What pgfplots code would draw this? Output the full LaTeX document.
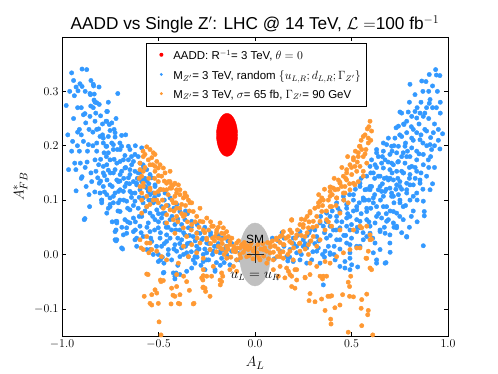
\documentclass[border=0pt]{standalone}
\usepackage{fontspec}
\setmainfont{Liberation Sans}
\usepackage{pgfplots}
\pgfplotsset{compat=1.18}
\definecolor{zblue}{RGB}{51,153,255}
\definecolor{zorange}{RGB}{255,153,51}
\definecolor{smgray}{RGB}{192,192,192}
\begin{document}
\begin{tikzpicture}
\useasboundingbox (-62bp,-38bp) rectangle (436bp,336bp);
\begin{axis}[
  at={(0,0)}, anchor=south west,
  scale only axis, width=386bp, height=299bp,
  xmin=-1, xmax=1, ymin=-0.15, ymax=0.40,
  xtick={-1,-0.5,0,0.5,1}, ytick={-0.1,0,0.1,0.2,0.3},
  xticklabels={$-1.0$,$-0.5$,$0.0$,$0.5$,$1.0$},
  yticklabels={$-0.1$,$0.0$,$0.1$,$0.2$,$0.3$},
  tick align=inside, major tick length=4bp,
  every tick/.style={black, line width=0.6pt},
  axis line style={line width=0.8pt},
  ticklabel style={font=\fontsize{13}{15}\selectfont},
  xlabel={$A_L$}, ylabel={$A^*_{FB}$},
  label style={font=\fontsize{15}{17}\selectfont},
  xlabel style={yshift=-2bp},
  title={AADD vs Single Z$'$: LHC @ 14 TeV, $\mathcal{L}=$100 fb$^{-1}$},
  title style={font=\fontsize{17.3}{20}\selectfont, yshift=-6bp},
  legend style={at={(0.503,0.98)}, anchor=north, draw=black, line width=0.8pt,
    font=\fontsize{11.5}{13}\selectfont, row sep=5bp, inner xsep=3bp, inner ysep=5bp},
  legend cell align=left,
  clip=true,
]
\addlegendimage{legend image code/.code={\path[draw=none,fill=none] (0bp,0bp) -- (22bp,0bp); \fill[red,draw=none] (12bp,0) circle (2bp);}}
\addlegendentry{AADD: R$^{-1}$= 3 TeV, $\theta = 0$}
\addlegendimage{legend image code/.code={\path[draw=none,fill=none] (0bp,0bp) -- (22bp,0bp); \fill[zblue,draw=none] (12bp,0) circle (1.6bp);}}
\addlegendentry{M$_{Z'}$= 3 TeV, random $\{u_{L,R}; d_{L,R}; \Gamma_{Z'}\}$}
\addlegendimage{legend image code/.code={\path[draw=none,fill=none] (0bp,0bp) -- (22bp,0bp); \fill[zorange,draw=none] (12bp,0) circle (1.6bp);}}
\addlegendentry{M$_{Z'}$= 3 TeV, $\sigma$= 65 fb, $\Gamma_{Z'}$= 90 GeV}

% ---------------- blue: random couplings ----------------
\addplot[only marks, mark=*, mark size=2.2bp, color=zblue, forget plot] coordinates {
(-0.978,0.274) (-0.95,0.334) (-0.936,0.292) (-0.927,0.117) (-0.917,0.301) (-0.896,0.309) (-0.896,0.341) (-0.872,0.34)
(-0.836,0.31) (-0.808,0.308) (-0.853,0.294) (-0.919,0.27) (-0.945,0.208) (-0.919,0.225) (-0.91,0.23) (-0.928,0.156)
(-0.966,0.156) (-0.934,0.168) (-0.889,0.208) (-0.885,0.064) (-0.857,0.088) (-0.896,0.143) (-0.875,0.125) (-0.905,0.168)
(-0.863,0.202) (-0.868,0.19) (-0.877,0.242) (-0.889,0.257) (-0.851,0.273) (-0.834,0.284) (-0.825,0.26) (-0.833,0.295)
(-0.82,0.279) (-0.81,0.231) (-0.803,0.217) (-0.829,0.174) (-0.824,0.153) (-0.815,0.141) (-0.846,0.134) (-0.803,0.113)
(-0.795,0.1) (-0.807,0.131) (-0.782,0.187) (-0.786,0.162) (-0.767,0.137) (-0.751,0.174) (-0.772,0.199) (-0.76,0.217)
(-0.742,0.205) (-0.765,0.263) (-0.772,0.245) (-0.742,0.242) (-0.725,0.224) (-0.734,0.193) (-0.725,0.156) (-0.751,0.104)
(-0.734,0.095) (-0.76,0.085) (-0.72,0.061) (-0.72,0.045) (-0.716,0.027) (-0.707,0.116) (-0.716,0.137)
(-0.907,0.314) (-0.927,0.308) (-0.838,0.313) (-0.855,0.296) (-0.711,0.296) (-0.829,0.28) (-0.807,0.276) (-0.768,0.263)
(-0.838,0.27) (-0.881,0.259) (-0.855,0.254) (-0.829,0.245) (-0.768,0.245) (-0.755,0.239) (-0.751,0.228) (-0.73,0.23)
(-0.691,0.219) (-0.725,0.216) (-0.786,0.214) (-0.82,0.23) (-0.768,0.199) (-0.713,0.193) (-0.691,0.199) (-0.656,0.199)
(-0.648,0.193) (-0.674,0.182) (-0.699,0.171) (-0.656,0.174) (-0.63,0.171) (-0.605,0.18) (-0.587,0.196) (-0.648,0.156)
(-0.674,0.159) (-0.699,0.147) (-0.622,0.153) (-0.596,0.15) (-0.579,0.159) (-0.561,0.156) (-0.544,0.147) (-0.656,0.141)
(-0.63,0.134) (-0.613,0.128) (-0.587,0.134) (-0.57,0.125) (-0.596,0.119) (-0.674,0.125) (-0.699,0.119) (-0.648,0.116)
(-0.622,0.113) (-0.553,0.116) (-0.518,0.125) (-0.527,0.113) (-0.734,0.107)
(-0.786,0.205) (-0.734,0.202) (-0.76,0.187) (-0.699,0.193) (-0.622,0.184) (-0.596,0.168) (-0.639,0.165) (-0.682,0.174)
(-0.716,0.168) (-0.768,0.165) (-0.786,0.15) (-0.734,0.15) (-0.691,0.153) (-0.648,0.147) (-0.605,0.15) (-0.579,0.137)
(-0.613,0.131) (-0.665,0.131) (-0.708,0.134) (-0.751,0.128) (-0.786,0.125) (-0.768,0.11) (-0.725,0.113) (-0.682,0.116)
(-0.639,0.113) (-0.561,0.122) (-0.544,0.11) (-0.579,0.104) (-0.622,0.098) (-0.665,0.098) (-0.708,0.095) (-0.751,0.092)
(-0.794,0.095) (-0.699,0.079) (-0.648,0.082) (-0.605,0.085) (-0.561,0.088) (-0.527,0.095) (-0.509,0.082) (-0.544,0.076)
(-0.587,0.07) (-0.63,0.067) (-0.674,0.064) (-0.716,0.061) (-0.665,0.049) (-0.725,0.027) (-0.682,0.036) (-0.691,0.012)
(-0.63,0.042) (-0.596,0.052) (-0.553,0.058) (-0.518,0.064) (-0.484,0.067) (-0.466,0.058) (-0.501,0.049) (-0.544,0.042)
(-0.579,0.033) (-0.622,0.027) (-0.613,0.015) (-0.535,0.024) (-0.492,0.03) (-0.458,0.036) (-0.432,0.045) (-0.415,0.055)
(-0.44,0.064) (-0.466,0.076) (-0.484,0.088) (-0.509,0.098) (-0.458,0.024) (-0.415,0.018) (-0.38,0.027) (-0.363,0.036)
(-0.389,0.045) (-0.345,0.049) (-0.32,0.033) (-0.337,0.021) (-0.38,0.012) (-0.302,0.015) (-0.276,0.027) (-0.285,0.039)
(-0.25,0.021) (-0.233,0.009) (-0.198,0.015) (-0.181,0.003) (-0.147,0.0) (-0.268,0.0) (-0.311,-0.004) (-0.354,0.003)
(-0.406,0.006) (-0.449,0.009) (-0.484,0.015) (-0.501,0.0) (-0.544,0.009) (-0.389,0.079) (-0.363,0.064) (-0.328,0.061)
(-0.406,0.092) (-0.44,0.104) (-0.466,0.113) (-0.492,0.119) (-0.518,0.128) (-0.535,0.141)
(-0.881,0.066) (-0.794,0.1) (-0.751,0.088) (-0.768,0.076) (-0.716,0.058) (-0.725,0.042) (-0.72,0.025) (-0.686,0.01)
(-0.665,0.039) (-0.648,0.058) (-0.613,0.03) (-0.561,0.009) (-0.527,0.0) (-0.501,-0.013) (-0.472,-0.016) (-0.472,-0.033)
(-0.409,-0.034) (-0.415,-0.045) (-0.354,-0.031) (-0.311,-0.016) (-0.268,-0.013) (-0.207,-0.031) (-0.173,-0.007) (-0.13,-0.019)
(-0.095,-0.01) (-0.432,-0.01) (-0.389,-0.004) (-0.345,-0.004) (-0.302,0.006) (-0.25,0.003) (-0.216,0.006) (-0.164,0.009)
(-0.121,0.006) (-0.078,0.003) (-0.043,0.0) (-0.49,-0.01) (-0.475,-0.034) (-0.423,-0.034) (-0.389,-0.037) (-0.415,-0.04)
(-0.328,-0.025) (-0.259,-0.028) (-0.207,-0.028)
(-0.12,0.02) (-0.1,0.01) (-0.08,-0.01) (-0.06,0.015) (-0.14,0.025) (-0.16,-0.015) (-0.19,0.035) (-0.23,0.04)
(-0.26,0.05) (-0.3,0.055) (-0.35,0.075) (-0.42,0.085) (-0.47,0.1) (-0.56,0.135) (-0.6,0.14) (-0.62,0.06) (-0.66,0.085)
(-0.7,0.1) (-0.74,0.125) (-0.78,0.145) (-0.8,0.175) (-0.84,0.2) (-0.86,0.23) (-0.9,0.27) (-0.94,0.25) (-0.95,0.19)
(-0.91,0.19) (-0.88,0.16) (-0.85,0.15) (-0.82,0.19) (-0.79,0.24) (-0.76,0.155) (-0.68,0.14) (-0.64,0.105) (-0.58,0.095)
(-0.54,0.1) (-0.5,0.075) (-0.45,0.05) (-0.4,0.03) (-0.36,0.015) (-0.3,-0.005) (-0.24,-0.01) (-0.18,-0.02)
(-0.97,0.22) (-0.96,0.3) (-0.94,0.32) (-0.92,0.2) (-0.9,0.22) (-0.9,0.14) (-0.88,0.3) (-0.87,0.17) (-0.86,0.11)
(-0.85,0.32) (-0.84,0.225) (-0.83,0.115) (-0.82,0.205) (-0.81,0.165) (-0.8,0.255) (-0.8,0.135) (-0.79,0.22) (-0.78,0.115)
(-0.77,0.18) (-0.76,0.28) (-0.75,0.15) (-0.74,0.06) (-0.73,0.175) (-0.72,0.25) (-0.71,0.08) (-0.7,0.135) (-0.7,0.205)
(-0.69,0.05) (-0.68,0.1) (-0.67,0.16) (-0.67,0.22) (-0.66,0.06) (-0.65,0.13) (-0.64,0.18) (-0.63,0.09) (-0.62,0.045)
(-0.62,0.2) (-0.61,0.14) (-0.6,0.07) (-0.6,0.105) (-0.59,0.04) (-0.58,0.165) (-0.57,0.08) (-0.57,0.14) (-0.56,0.05)
(-0.55,0.1) (-0.55,0.13) (-0.54,0.03) (-0.53,0.07) (-0.52,0.045) (-0.52,0.105) (-0.51,0.015) (-0.5,0.06) (-0.5,0.11)
(-0.49,0.04) (-0.48,0.075) (-0.48,-0.005) (-0.47,0.02) (-0.46,0.05) (-0.45,0.09) (-0.45,0.0) (-0.44,0.03) (-0.43,0.07)
(-0.42,0.01) (-0.41,0.045) (-0.4,0.065) (-0.4,-0.02) (-0.39,0.02) (-0.38,0.055) (-0.37,0.0) (-0.37,0.04) (-0.36,0.08)
(-0.35,0.02) (-0.34,0.035) (-0.33,0.005) (-0.33,0.05) (-0.32,-0.01) (-0.31,0.025) (-0.3,0.04) (-0.29,0.01) (-0.28,-0.02)
(-0.27,0.03) (-0.26,0.01) (-0.25,-0.01) (-0.24,0.02) (-0.23,0.035) (-0.22,0.0) (-0.21,0.015) (-0.2,-0.015) (-0.19,0.02)
(-0.18,0.005) (-0.17,0.03) (-0.15,0.015) (-0.14,-0.005)
(0.07,0.012) (0.1,-0.008) (0.12,0.025) (0.15,0.015) (0.09,0.03) (0.17,-0.012) (0.06,-0.015) (0.14,0.04)
% right arm
(0.936,0.34) (0.958,0.329) (0.903,0.331) (0.886,0.318) (0.864,0.319) (0.803,0.313) (0.829,0.294) (0.907,0.285)
(0.903,0.278) (0.889,0.27) (0.794,0.262) (0.751,0.262) (0.829,0.263) (0.855,0.26) (0.872,0.254) (0.838,0.251)
(0.812,0.254) (0.786,0.245) (0.743,0.236) (0.731,0.233) (0.772,0.239) (0.82,0.23) (0.838,0.224) (0.889,0.227)
(0.924,0.224) (0.972,0.222) (0.958,0.194) (0.907,0.202) (0.915,0.193) (0.855,0.211) (0.812,0.214) (0.786,0.224)
(0.76,0.217) (0.725,0.214) (0.691,0.214) (0.682,0.202) (0.708,0.199) (0.743,0.199) (0.777,0.199) (0.812,0.196)
(0.838,0.19) (0.872,0.184) (0.898,0.174) (0.872,0.165) (0.838,0.174) (0.803,0.18) (0.768,0.187) (0.734,0.187)
(0.699,0.184) (0.665,0.19) (0.63,0.193) (0.639,0.18) (0.674,0.174) (0.708,0.168) (0.743,0.171) (0.777,0.168)
(0.812,0.162) (0.838,0.153) (0.803,0.147) (0.768,0.15) (0.734,0.153) (0.699,0.156) (0.665,0.159) (0.622,0.165)
(0.596,0.162) (0.613,0.15) (0.648,0.144) (0.682,0.141) (0.717,0.137) (0.751,0.134) (0.786,0.131) (0.82,0.128)
(0.855,0.137) (0.889,0.144) (0.786,0.113) (0.579,0.144) (0.544,0.131) (0.57,0.119) (0.604,0.125) (0.639,0.119)
(0.674,0.116) (0.708,0.113) (0.743,0.11) (0.82,0.107)
(0.907,0.119) (0.872,0.098) (0.877,0.079) (0.877,0.071) (0.786,0.032) (0.872,0.016) (0.838,0.113) (0.803,0.1)
(0.768,0.088) (0.734,0.076) (0.717,0.058) (0.734,0.049) (0.699,0.021) (0.679,-0.015) (0.63,-0.01) (0.532,-0.023)
(0.492,-0.028) (0.354,-0.056) (0.648,0.009) (0.622,0.021) (0.674,0.039) (0.648,0.045) (0.691,0.064) (0.656,0.067)
(0.622,0.058) (0.596,0.039) (0.561,0.027) (0.527,0.015) (0.492,0.003) (0.466,-0.013) (0.44,-0.022) (0.415,-0.01)
(0.389,0.0) (0.363,0.006) (0.328,0.012) (0.294,-0.01) (0.268,-0.016) (0.233,-0.01) (0.198,-0.013) (0.164,-0.004)
(0.544,0.125) (0.596,0.119) (0.648,0.125) (0.699,0.122) (0.751,0.125) (0.803,0.128) (0.855,0.131) (0.717,0.107)
(0.665,0.107) (0.613,0.104) (0.561,0.1) (0.51,0.1) (0.458,0.107) (0.423,0.095) (0.475,0.085) (0.527,0.082)
(0.579,0.085) (0.63,0.088) (0.682,0.088) (0.751,0.1) (0.371,0.076) (0.423,0.07) (0.475,0.067) (0.527,0.064)
(0.579,0.064) (0.544,0.049) (0.492,0.045) (0.44,0.049) (0.389,0.052) (0.337,0.058) (0.285,0.045) (0.32,0.033)
(0.371,0.03) (0.423,0.027) (0.475,0.021) (0.25,0.027) (0.216,0.015) (0.268,0.012) (0.181,0.009) (0.13,0.006)
(0.233,0.042) (0.198,0.03)
(0.665,0.205) (0.786,0.18) (0.63,0.187) (0.604,0.174) (0.656,0.168) (0.717,0.165) (0.76,0.153) (0.639,0.144)
(0.691,0.137) (0.734,0.128) (0.786,0.119) (0.596,0.125) (0.656,0.116) (0.708,0.107) (0.751,0.095) (0.51,0.11)
(0.561,0.104) (0.613,0.095) (0.665,0.088) (0.717,0.079) (0.768,0.064) (0.786,0.033) (0.734,0.052) (0.682,0.061)
(0.63,0.07) (0.579,0.079) (0.527,0.088) (0.475,0.092) (0.44,0.079) (0.492,0.07) (0.544,0.061) (0.596,0.052)
(0.648,0.042) (0.699,0.036) (0.579,0.033) (0.527,0.042) (0.475,0.052) (0.423,0.061) (0.389,0.07) (0.406,0.045)
(0.354,0.052) (0.44,0.027) (0.492,0.018) (0.544,0.015) (0.613,0.003) (0.285,0.024) (0.25,0.015) (0.32,0.006)
(0.389,0.003) (0.216,0.003) (0.492,-0.007) (0.337,-0.016) (0.501,-0.019) (0.466,-0.025) (0.63,-0.016) (0.674,-0.016)
(0.70,0.004)
(0.87,0.3) (0.92,0.31) (0.94,0.27) (0.86,0.28) (0.9,0.25) (0.93,0.24) (0.88,0.23) (0.85,0.24) (0.91,0.215) (0.87,0.205)
(0.945,0.3) (0.93,0.16) (0.92,0.13) (0.9,0.16) (0.86,0.15) (0.83,0.14) (0.8,0.16) (0.76,0.18) (0.72,0.2) (0.7,0.14)
(0.66,0.13) (0.62,0.14) (0.59,0.1) (0.55,0.075) (0.5,0.055) (0.46,0.035) (0.41,0.015) (0.36,-0.005) (0.31,0.02)
(0.27,0.035) (0.82,0.08) (0.84,0.06) (0.8,0.05) (0.76,0.04) (0.72,0.095) (0.68,0.075) (0.74,0.14) (0.78,0.205)
(0.81,0.235) (0.76,0.26) (0.96,0.26) (0.95,0.23)
(0.15,0.03) (0.18,-0.005) (0.2,0.02) (0.22,0.035) (0.24,0.0) (0.26,0.02) (0.28,0.04) (0.3,0.005) (0.31,0.045)
(0.33,0.025) (0.34,0.07) (0.35,0.0) (0.36,0.04) (0.37,0.06) (0.38,0.015) (0.39,0.035) (0.4,0.08) (0.41,0.0)
(0.42,0.045) (0.43,0.085) (0.44,0.01) (0.45,0.06) (0.46,0.1) (0.47,0.035) (0.48,0.075) (0.49,0.11) (0.5,0.03)
(0.51,0.08) (0.52,0.12) (0.53,0.05) (0.54,0.095) (0.55,0.14) (0.56,0.04) (0.57,0.1) (0.58,0.12) (0.59,0.06)
(0.6,0.085) (0.6,0.15) (0.61,0.03) (0.62,0.11) (0.63,0.16) (0.64,0.075) (0.65,0.1) (0.66,0.18) (0.67,0.05)
(0.67,0.14) (0.68,0.12) (0.69,0.17) (0.7,0.08) (0.71,0.19) (0.71,0.15) (0.72,0.05) (0.73,0.12) (0.74,0.17)
(0.75,0.22) (0.75,0.07) (0.76,0.12) (0.77,0.15) (0.77,0.24) (0.78,0.09) (0.79,0.19) (0.8,0.14) (0.8,0.28)
(0.81,0.07) (0.82,0.21) (0.83,0.16) (0.84,0.27) (0.84,0.1) (0.85,0.185) (0.86,0.22) (0.87,0.12) (0.88,0.26)
(0.89,0.2) (0.9,0.3) (0.91,0.18) (0.92,0.27) (0.93,0.2) (0.94,0.33) (0.95,0.21) (0.96,0.28)
};

% ---------------- SM ellipse ----------------
\addplot[only marks, mark=*, mark size=31.5bp, color=smgray, forget plot,
  mark options={xscale=0.49, fill=smgray, draw=smgray}] coordinates {(0,0)};

% ---------------- orange: sigma = 65 fb ----------------
\addplot[only marks, mark=*, mark size=2.2bp, color=zorange, forget plot] coordinates {
(-0.561,0.198) (-0.544,0.193) (-0.579,0.18) (-0.518,0.184) (-0.553,0.174) (-0.509,0.171) (-0.596,0.168) (-0.501,0.159)
(-0.518,0.153) (-0.596,0.156) (-0.587,0.144) (-0.579,0.125) (-0.544,0.122) (-0.449,0.134) (-0.432,0.128) (-0.415,0.131)
(-0.44,0.122) (-0.501,0.116) (-0.475,0.119) (-0.406,0.113) (-0.363,0.107)
(-0.527,0.187) (-0.57,0.184) (-0.535,0.178) (-0.492,0.165) (-0.518,0.162) (-0.544,0.165) (-0.466,0.15) (-0.484,0.144)
(-0.501,0.134) (-0.44,0.134) (-0.406,0.119) (-0.389,0.11) (-0.415,0.107) (-0.371,0.104) (-0.345,0.1) (-0.337,0.095)
(-0.38,0.092) (-0.406,0.085) (-0.44,0.082) (-0.475,0.085) (-0.501,0.095) (-0.527,0.1) (-0.561,0.107) (-0.587,0.113)
(-0.596,0.125) (-0.587,0.1) (-0.544,0.092) (-0.518,0.113) (-0.458,0.119) (-0.432,0.122) (-0.458,0.073) (-0.406,0.07)
(-0.363,0.073) (-0.32,0.079) (-0.285,0.085) (-0.25,0.067) (-0.285,0.061) (-0.328,0.055) (-0.371,0.049) (-0.415,0.039)
(-0.354,0.033) (-0.302,0.039) (-0.268,0.045) (-0.224,0.052) (-0.198,0.045) (-0.164,0.049) (-0.147,0.042) (-0.207,0.033)
(-0.25,0.027) (-0.285,0.021) (-0.328,0.018) (-0.371,0.015) (-0.173,0.027) (-0.13,0.024) (-0.095,0.021) (-0.061,0.015)
(-0.035,0.009) (-0.009,0.006) (-0.112,0.009) (-0.147,0.015) (-0.19,0.015) (-0.233,0.009) (-0.078,0.0) (-0.043,-0.004)
(-0.095,-0.01) (-0.147,-0.007) (-0.561,0.021) (-0.535,0.009) (-0.579,0.009) (-0.484,-0.004) (-0.458,-0.01) (-0.397,-0.016)
(-0.345,-0.004) (-0.302,0.003) (-0.268,-0.007) (-0.579,0.153) (-0.475,0.159) (-0.44,0.153) (-0.397,0.128) (-0.363,0.113)
(-0.458,0.058) (-0.423,0.064) (-0.371,0.07) (-0.302,0.07) (-0.216,0.052) (-0.181,0.058) (-0.173,0.039) (-0.138,0.033)
(-0.112,0.006) (-0.078,0.012) (-0.579,0.131) (-0.544,0.119) (-0.458,0.131) (-0.423,0.128) (-0.389,0.119) (-0.354,0.107)
(-0.328,0.095) (-0.423,0.095) (-0.509,0.1) (-0.561,0.088) (-0.587,0.076) (-0.596,0.027) (-0.561,0.033) (-0.59,0.012)
(-0.55,0.003) (-0.544,0.021) (-0.509,0.006)
(-0.6,0.14) (-0.58,0.19) (-0.57,0.16) (-0.55,0.14) (-0.53,0.165) (-0.52,0.14) (-0.5,0.145) (-0.49,0.12) (-0.48,0.1)
(-0.47,0.135) (-0.46,0.09) (-0.45,0.11) (-0.43,0.1) (-0.42,0.08) (-0.41,0.095) (-0.4,0.06) (-0.39,0.085) (-0.38,0.075)
(-0.36,0.09) (-0.35,0.06) (-0.34,0.08) (-0.33,0.045) (-0.31,0.06) (-0.3,0.03) (-0.29,0.05) (-0.27,0.06) (-0.26,0.04)
(-0.24,0.045) (-0.23,0.06) (-0.22,0.03) (-0.2,0.04) (-0.19,0.05) (-0.17,0.01) (-0.16,0.038) (-0.15,0.005)
% left, below zero
(-0.574,-0.077) (-0.535,-0.074) (-0.518,-0.065) (-0.49,-0.047) (-0.554,-0.037) (-0.497,-0.124) (-0.487,-0.148) (-0.544,-0.09)
(-0.435,-0.091) (-0.39,-0.091) (-0.32,-0.091) (-0.425,-0.075) (-0.406,-0.059) (-0.354,-0.05) (-0.27,-0.061) (-0.27,-0.047)
(-0.233,-0.077) (-0.18,-0.056) (-0.167,-0.04) (-0.444,-0.152) (-0.561,-0.036) (-0.487,-0.05) (-0.475,-0.048) (-0.509,-0.071)
(-0.535,-0.093) (-0.501,-0.09) (-0.432,-0.062) (-0.415,-0.077) (-0.397,-0.09) (-0.389,-0.074) (-0.34,-0.066) (-0.268,-0.06)
(-0.256,-0.068) (-0.316,-0.09) (-0.225,-0.04) (-0.173,-0.05) (-0.25,-0.04) (-0.268,-0.039) (-0.37,-0.04) (-0.406,-0.037)
(-0.276,-0.043) (-0.259,-0.062) (-0.181,-0.047) (-0.173,-0.034) (-0.13,-0.028) (-0.112,-0.022) (-0.095,-0.031) (-0.216,-0.022)
(-0.268,-0.028)
% centre
(-0.25,0.03) (-0.23,0.02) (-0.21,0.025) (-0.2,0.005) (-0.19,0.03) (-0.18,0.012) (-0.17,0.02) (-0.16,0.0) (-0.155,0.03)
(-0.14,0.01) (-0.13,0.018) (-0.125,-0.005) (-0.12,0.03) (-0.11,0.015) (-0.1,0.005) (-0.09,0.012) (-0.085,0.025)
(-0.075,-0.006) (-0.07,0.018) (-0.06,0.004) (-0.055,0.022) (-0.05,0.01) (-0.04,0.016) (-0.03,-0.002) (-0.025,0.012)
(-0.02,0.02) (-0.01,-0.008) (0.0,0.012) (0.01,0.003) (0.015,0.018) (0.02,-0.006) (0.03,0.01) (0.04,0.02) (0.045,-0.003)
(0.05,0.012) (0.06,0.006) (0.065,0.022) (0.07,-0.008) (0.08,0.014) (0.09,0.025) (0.095,0.004) (0.1,0.016) (0.11,0.03)
(0.115,-0.004) (0.12,0.01) (0.13,0.022) (0.14,0.035) (0.145,0.005) (0.15,0.018) (0.16,0.03) (0.17,0.0) (0.18,0.024)
(0.19,0.04) (0.2,0.012) (0.21,0.03) (0.22,0.045) (0.23,0.02) (0.24,0.035) (0.25,0.05) (0.26,0.01) (0.27,0.04)
(0.28,0.06) (0.29,0.025) (0.3,0.05)
% right arm
(0.544,0.199) (0.535,0.187) (0.51,0.178) (0.561,0.18) (0.579,0.168) (0.492,0.165) (0.475,0.156) (0.527,0.153)
(0.561,0.153) (0.458,0.144) (0.432,0.137) (0.475,0.137) (0.51,0.131) (0.449,0.125) (0.406,0.122) (0.389,0.116)
(0.38,0.1) (0.337,0.098) (0.328,0.088) (0.346,0.079) (0.389,0.088) (0.423,0.104) (0.285,0.079) (0.259,0.064)
(0.302,0.061) (0.337,0.061) (0.19,0.064) (0.233,0.055) (0.277,0.049) (0.32,0.052) (0.363,0.045) (0.397,0.052)
(0.181,0.045) (0.147,0.042) (0.13,0.033) (0.173,0.033) (0.216,0.036) (0.259,0.033) (0.302,0.033) (0.337,0.027)
(0.112,0.027) (0.078,0.021) (0.104,0.015) (0.147,0.018) (0.19,0.021) (0.233,0.021) (0.277,0.018) (0.32,0.015)
(0.043,0.009) (0.078,0.003) (0.13,0.003) (0.181,0.006) (0.233,0.006) (0.277,0.0) (0.147,-0.007) (0.095,-0.01)
(0.198,-0.01) (0.009,0.0) (0.026,-0.01)
(0.596,0.245) (0.582,0.231) (0.604,0.227) (0.561,0.217) (0.587,0.214) (0.541,0.199) (0.553,0.193) (0.575,0.193)
(0.51,0.174) (0.535,0.18) (0.518,0.162) (0.475,0.15) (0.501,0.147) (0.44,0.133) (0.392,0.124) (0.415,0.119)
(0.466,0.125) (0.458,0.113) (0.492,0.119) (0.518,0.128) (0.544,0.162) (0.561,0.144) (0.535,0.134) (0.423,0.104)
(0.389,0.107) (0.346,0.104) (0.587,0.205)
(0.44,0.131) (0.389,0.124) (0.329,0.095) (0.354,0.1) (0.397,0.088) (0.44,0.076) (0.483,0.095) (0.466,0.113)
(0.285,0.076) (0.19,0.063) (0.25,0.055) (0.371,0.064) (0.44,0.045) (0.51,0.045) (0.544,0.052) (0.579,0.052)
(0.596,0.036) (0.596,0.027) (0.544,0.012) (0.492,0.009) (0.458,0.003) (0.423,-0.004) (0.389,-0.016) (0.363,-0.013)
(0.32,-0.022) (0.285,-0.016) (0.207,-0.028) (0.181,-0.037) (0.216,-0.047) (0.19,-0.059) (0.13,-0.004) (0.061,-0.016)
(0.13,-0.022) (0.164,-0.025) (0.579,-0.007)
(0.32,0.07) (0.33,0.11) (0.35,0.09) (0.36,0.12) (0.37,0.08) (0.4,0.11) (0.41,0.14) (0.42,0.09) (0.43,0.12)
(0.45,0.16) (0.46,0.1) (0.47,0.14) (0.48,0.18) (0.49,0.13) (0.5,0.16) (0.52,0.19) (0.53,0.17) (0.55,0.21)
(0.57,0.22) (0.57,0.185) (0.59,0.235) (0.6,0.21) (0.38,0.06) (0.31,0.085) (0.27,0.07) (0.24,0.065)
% right, below zero
(0.207,-0.062) (0.19,-0.04) (0.26,-0.043) (0.285,-0.037) (0.337,-0.04) (0.35,-0.045) (0.285,-0.072) (0.28,-0.085)
(0.345,-0.082) (0.378,-0.077) (0.397,-0.076) (0.363,-0.103) (0.414,-0.098) (0.44,-0.093) (0.392,-0.119) (0.394,-0.128)
(0.454,-0.074) (0.49,-0.077) (0.51,-0.078) (0.553,-0.083) (0.55,-0.099) (0.587,-0.103) (0.579,-0.073) (0.584,-0.111)
(0.553,-0.131) (0.483,-0.143) (0.61,-0.148) (0.49,-0.059) (0.483,-0.051) (0.496,-0.04) (0.596,-0.025) (0.604,-0.028)
(0.575,-0.007) (0.587,0.006) (0.527,0.012) (0.604,0.028) (0.553,0.049) (0.173,-0.031) (0.216,-0.028) (0.259,-0.042)
(0.354,-0.04) (0.371,-0.04) (0.311,-0.087) (0.389,-0.077) (0.121,-0.04) (0.155,-0.043) (0.095,-0.028)
};

% ---------------- SM cross ----------------
\addplot[only marks, mark=+, mark size=8.5bp, color=black!85, line width=0.8pt, forget plot] coordinates {(0,0)};

% ---------------- AADD ellipse ----------------
\addplot[only marks, mark=*, mark size=21.5bp, color=red, forget plot,
  mark options={xscale=0.49, fill=red, draw=red}] coordinates {(-0.145,0.22)};

\coordinate (smtext) at (axis cs:0,0.027);
\coordinate (eqtext) at (axis cs:0,-0.041);
\end{axis}
\node[font=\fontsize{12}{14}\selectfont] at (smtext) {SM};
\node[font=\fontsize{13.5}{15}\selectfont] at (eqtext) {$u_L = u_R$};
\end{tikzpicture}
\end{document}
